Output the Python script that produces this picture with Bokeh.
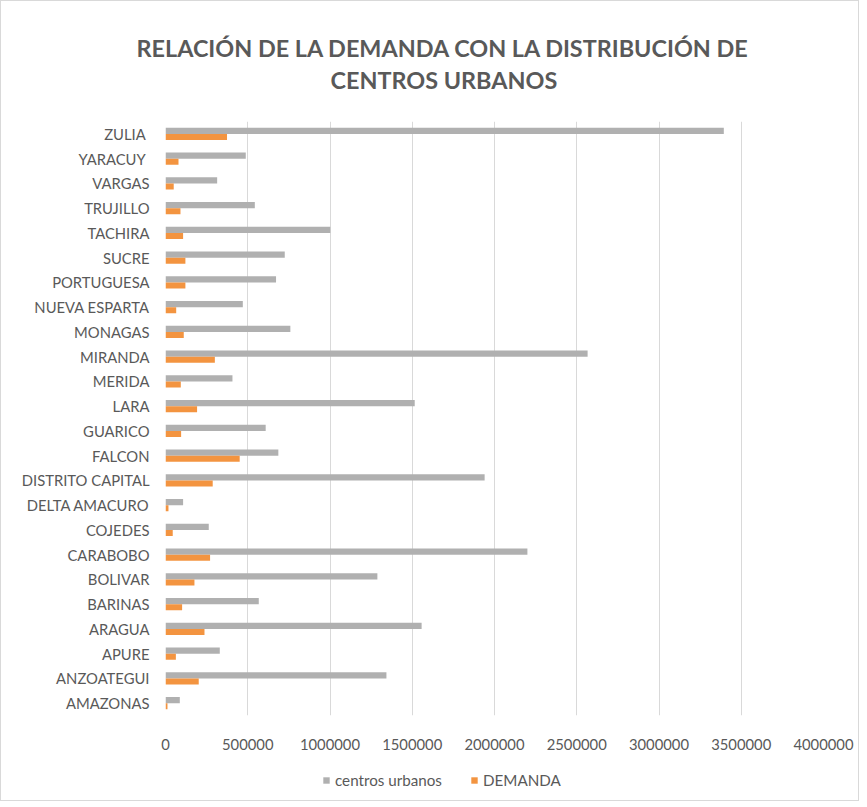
from bokeh.plotting import figure
from bokeh.layouts import column
from bokeh.models import (FactorRange, Range1d, Legend, LegendItem, FixedTicker,
                          NumeralTickFormatter, Title, ColumnDataSource)
from bokeh.transform import dodge
from bokeh.embed import file_html
from bokeh.resources import INLINE

categories = ["AMAZONAS", "ANZOATEGUI", "APURE", "ARAGUA", "BARINAS", "BOLIVAR",
              "CARABOBO", "COJEDES", "DELTA AMACURO", "DISTRITO CAPITAL", "FALCON",
              "GUARICO", "LARA", "MERIDA", "MIRANDA", "MONAGAS", "NUEVA ESPARTA",
              "PORTUGUESA", "SUCRE", "TACHIRA", "TRUJILLO", "VARGAS", "YARACUY ", "ZULIA "]
centros_urbanos = [87000, 1343000, 330000, 1557000, 567000, 1288000,
                   2200000, 263000, 107000, 1940000, 686000,
                   609000, 1515000, 407000, 2566000, 759000, 470000,
                   672000, 725000, 1002000, 543000, 314000, 488000, 3394000]
demanda = [12000, 202000, 63000, 237000, 101000, 176000,
           271000, 44000, 18000, 287000, 451000,
           95000, 192000, 93000, 300000, 111000, 65000,
           121000, 121000, 107000, 91000, 50000, 79000, 374000]
x_ticks = [0, 500000, 1000000, 1500000, 2000000, 2500000, 3000000, 3500000, 4000000]
series_names = ["centros urbanos", "DEMANDA"]

FONT = "Lato"
TXT = "#595959"
GRAY = "#B0B0B0"
ORANGE = "#F39440"

src = ColumnDataSource(dict(cat=categories, cu=centros_urbanos, dem=demanda))

p = figure(frame_width=658, frame_height=594, output_backend="svg", toolbar_location=None,
           y_range=FactorRange(factors=categories), x_range=Range1d(0, 4000000),
           min_border_left=164, min_border_right=35, min_border_top=120, min_border_bottom=45)

r1 = p.hbar(y=dodge("cat", 0.125, range=p.y_range), right="cu", left=0, height=0.25,
            source=src, fill_color=GRAY, line_color=None)
r2 = p.hbar(y=dodge("cat", -0.125, range=p.y_range), right="dem", left=0, height=0.25,
            source=src, fill_color=ORANGE, line_color=None)

t2 = Title(text="CENTROS URBANOS\n ", align="left", offset=165, text_font=FONT,
           text_font_size="23.4px", text_font_style="bold", text_color=TXT, standoff=0)
t1 = Title(text="RELACIÓN DE LA DEMANDA CON LA DISTRIBUCIÓN DE", align="left", offset=-29,
           text_font=FONT, text_font_size="23.4px", text_font_style="bold", text_color=TXT, standoff=4)
p.title.visible = False
p.add_layout(t2, "above")
p.add_layout(t1, "above")

p.xaxis.ticker = FixedTicker(ticks=x_ticks)
p.xaxis.formatter = NumeralTickFormatter(format="0")
for ax in (p.xaxis, p.yaxis):
    ax.axis_line_color = None
    ax.major_tick_line_color = None
    ax.minor_tick_line_color = None
    ax.major_label_text_font = FONT
    ax.major_label_text_font_size = "14.8px"
    ax.major_label_text_color = TXT
p.xaxis.major_label_standoff = 17
p.yaxis.major_label_standoff = 10

p.xgrid.grid_line_color = "#D9D9D9"
p.ygrid.grid_line_color = None
p.outline_line_color = None

# legend strip below the chart (zero-size swatch renderers only feed the legend)
lp = figure(width=857, height=40, output_backend="svg", toolbar_location=None, title=None,
            x_range=Range1d(0, 1), y_range=Range1d(0, 1),
            min_border_left=0, min_border_right=0, min_border_top=0, min_border_bottom=0)
lp.xaxis.visible = False
lp.yaxis.visible = False
lp.grid.grid_line_color = None
lp.outline_line_color = None
lr1 = lp.hbar(y=[0], right=[0], left=[0], height=0, fill_color=GRAY, line_color=None)
lr2 = lp.hbar(y=[0], right=[0], left=[0], height=0, fill_color=ORANGE, line_color=None)
legend = Legend(items=[LegendItem(label=series_names[0], renderers=[lr1]),
                       LegendItem(label=series_names[1], renderers=[lr2])],
                orientation="horizontal", location=(157, 11),
                label_text_font=FONT, label_text_font_size="15.2px", label_text_color=TXT,
                glyph_width=8, glyph_height=8, label_standoff=5, spacing=28,
                padding=0, margin=0, border_line_color=None, background_fill_alpha=0)
lp.add_layout(legend, "center")

layout = column(p, lp, spacing=0, styles={"border": "1px solid #D9D9D9"})

open("out.html", "w").write(file_html(layout, INLINE))
